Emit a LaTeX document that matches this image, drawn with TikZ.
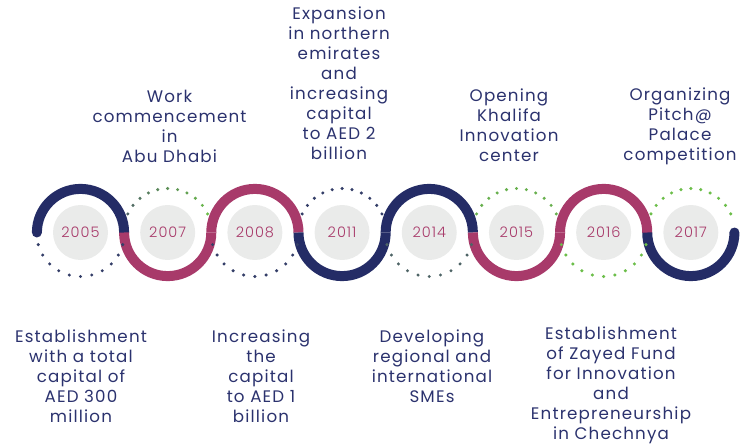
\documentclass[tikz,border=0pt]{standalone}
\usepackage{fontspec}
\setmainfont{Poppins}[LetterSpace=7]
\newfontfamily\yearfont{Poppins}[UprightFont=* Light, LetterSpace=7]
\usepackage{tikz}
\definecolor{tlnavy}{RGB}{36,44,102}
\definecolor{tlberry}{RGB}{168,58,106}
\definecolor{circgray}{RGB}{234,235,234}
\definecolor{labelblue}{RGB}{43,50,110}
\definecolor{dotnavy}{RGB}{52,62,104}
\definecolor{dotslate}{RGB}{78,100,102}
\definecolor{dotgreen}{RGB}{108,190,74}

\begin{document}
\begin{tikzpicture}[x=1pt, y=1pt,
  yearcirc/.style={circle, fill=circgray, minimum size=55pt, inner sep=0pt,
                   text=tlberry, font=\yearfont\fontsize{14.5}{16}\selectfont},
  band/.style={line width=10pt},
  lbl/.style={align=center, text=labelblue, inner sep=0pt,
              font=\fontsize{16.7}{20}\selectfont}
]
\useasboundingbox (0,0) rectangle (741,445);

% year circles
\foreach \yr [count=\i from 0] in {2005,2007,2008,2011,2014,2015,2016,2017}
  \node[yearcirc] (y\yr) at (80.5+87.19*\i, 212.5) {\yr};

% the wave, end pieces first so the round caps end up underneath
\draw[band, tlnavy, line cap=round] ([xshift=-43.6pt]y2005.center)
  arc[start angle=180, end angle=0, radius=43.6];
\draw[band, tlnavy, line cap=round] ([xshift=-43.6pt]y2017.center)
  arc[start angle=180, end angle=360, radius=43.6];
\draw[band, tlberry] ([xshift=-43.6pt]y2007.center)
  arc[start angle=180, end angle=360, radius=43.6];
\draw[band, tlberry] ([xshift=-43.6pt]y2008.center)
  arc[start angle=180, end angle=0, radius=43.6];
\draw[band, tlnavy] ([xshift=-43.6pt]y2011.center)
  arc[start angle=180, end angle=360, radius=43.6];
\draw[band, tlnavy] ([xshift=-43.6pt]y2014.center)
  arc[start angle=180, end angle=0, radius=43.6];
\draw[band, tlberry] ([xshift=-43.6pt]y2015.center)
  arc[start angle=180, end angle=360, radius=43.6];
\draw[band, tlberry] ([xshift=-43.6pt]y2016.center)
  arc[start angle=180, end angle=0, radius=43.6];

% dotted halves
\foreach \a in {196,210.8,...,345}{
  \fill[dotnavy] ([shift={(\a:44)}]y2005.center) circle (1.7);
  \fill[dotnavy] ([shift={(\a:44)}]y2008.center) circle (1.7);
  \fill[dotslate] ([shift={(\a:44)}]y2014.center) circle (1.7);
  \fill[dotgreen] ([shift={(\a:44)}]y2016.center) circle (1.7);
}
\foreach \a in {25,38,...,156}{
  \pgfmathtruncatemacro{\mix}{(155-\a)/1.3}
  \fill[dotgreen!\mix!dotslate] ([shift={(\a:44)}]y2007.center) circle (1.7);
  \fill[dotnavy] ([shift={(\a:44)}]y2011.center) circle (1.7);
  \fill[dotgreen!85!dotslate] ([shift={(\a:44)}]y2015.center) circle (1.7);
  \fill[dotgreen] ([shift={(\a:44)}]y2017.center) circle (1.7);
}

% labels above
\node[lbl] (t2007) at (169.5,319) {Work\\commencement\\in\\Abu Dhabi};
\node[lbl] (t2011) at (339,362) {Expansion\\in northern\\emirates\\and\\increasing\\capital\\to AED 2\\billion};
\node[lbl] (t2015) at (509,320) {Opening\\Khalifa\\Innovation\\center};
\node[lbl] (t2017) at (680,319) {Organizing\\Pitch@\\Palace\\competition};

% labels below
\node[lbl] (b2005) at (81,69) {Establishment\\with a total\\capital of\\AED 300\\million};
\node[lbl] (b2008) at (261,69) {Increasing\\the\\capital\\to AED 1\\billion};
\node[lbl] (b2014) at (432,79) {Developing\\regional and\\international\\SMEs};
\node[lbl] (b2016) at (611,60) {Establishment\\of Zayed Fund\\for Innovation\\and\\Entrepreneurship\\in Chechnya};
\end{tikzpicture}
\end{document}
